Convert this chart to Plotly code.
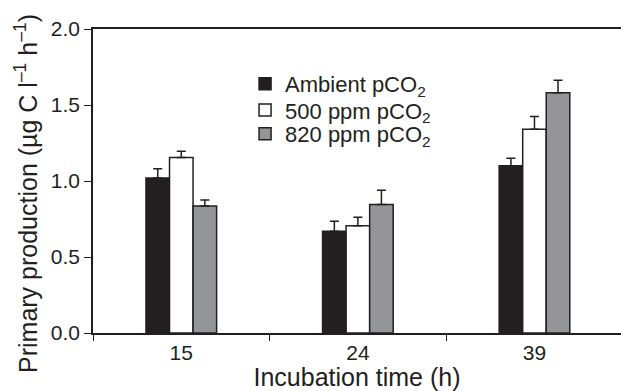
import plotly.graph_objects as go

categories = ["15", "24", "39"]
series_names = ["Ambient pCO<sub>2</sub>", "500 ppm pCO<sub>2</sub>", "820 ppm pCO<sub>2</sub>"]
ambient = [1.02, 0.67, 1.10]
ambient_err = [0.06, 0.066, 0.05]
ppm500 = [1.155, 0.705, 1.34]
ppm500_err = [0.04, 0.057, 0.085]
ppm820 = [0.835, 0.845, 1.58]
ppm820_err = [0.04, 0.094, 0.083]
y_ticks = [0.0, 0.5, 1.0, 1.5, 2.0]

ink = "#231f20"
fills = ["#231f20", "#ffffff", "#939598"]
values = [ambient, ppm500, ppm820]
errors = [ambient_err, ppm500_err, ppm820_err]
legend_ids = ["legend", "legend2", "legend3"]
legend_y = [0.819, 0.733, 0.655]

fig = go.Figure()
for name, vals, errs, col, lid in zip(series_names, values, errors, fills, legend_ids):
    fig.add_trace(go.Bar(
        x=categories, y=vals, name=name, legend=lid,
        marker=dict(color=col, line=dict(color=ink, width=1.5)),
        error_y=dict(type="data", symmetric=False, array=errs,
                     arrayminus=[0] * len(errs), color=ink,
                     thickness=1.5, width=4.5),
    ))

leg_common = dict(xanchor="left", yanchor="middle", font=dict(size=22),
                  bgcolor="rgba(0,0,0,0)", borderwidth=0)
fig.update_layout(
    width=621, height=391,
    margin=dict(l=93, r=0, t=29, b=58),
    paper_bgcolor="white", plot_bgcolor="white",
    barmode="group", bargap=0.6, bargroupgap=0,
    font=dict(family="Liberation Sans, Arial, sans-serif", color=ink, size=21),
    showlegend=True,
    legend=dict(x=0.288, y=legend_y[0], **leg_common),
    legend2=dict(x=0.288, y=legend_y[1], **leg_common),
    legend3=dict(x=0.288, y=legend_y[2], **leg_common),
)
fig.update_xaxes(
    type="category", range=[-0.5, 2.49], tickson="boundaries",
    showline=True, linecolor=ink, linewidth=1.5, mirror=True,
    ticks="outside", ticklen=6, tickwidth=1.2, tickcolor=ink,
    showgrid=False, zeroline=False,
    title=dict(text="Incubation time (h)", font=dict(size=25), standoff=6),
    tickfont=dict(size=21),
)
fig.update_yaxes(
    range=[0, 2.0], tickvals=y_ticks, tickformat=".1f",
    showline=True, linecolor=ink, linewidth=1.5,
    ticks="outside", ticklen=7, tickwidth=1.2, tickcolor=ink,
    showgrid=False, zeroline=False,
    tickfont=dict(size=21),
)
# y-axis title placed to match the reference (slightly below plot centre)
fig.add_annotation(
    text="Primary production (µg C l<sup>–1</sup> h<sup>–1</sup>)",
    xref="paper", yref="paper", x=(26 - 93) / 528, y=(333 - 194) / 304,
    xanchor="center", yanchor="middle", textangle=-90, showarrow=False,
    font=dict(size=25),
)

fig.write_html("out.html")
